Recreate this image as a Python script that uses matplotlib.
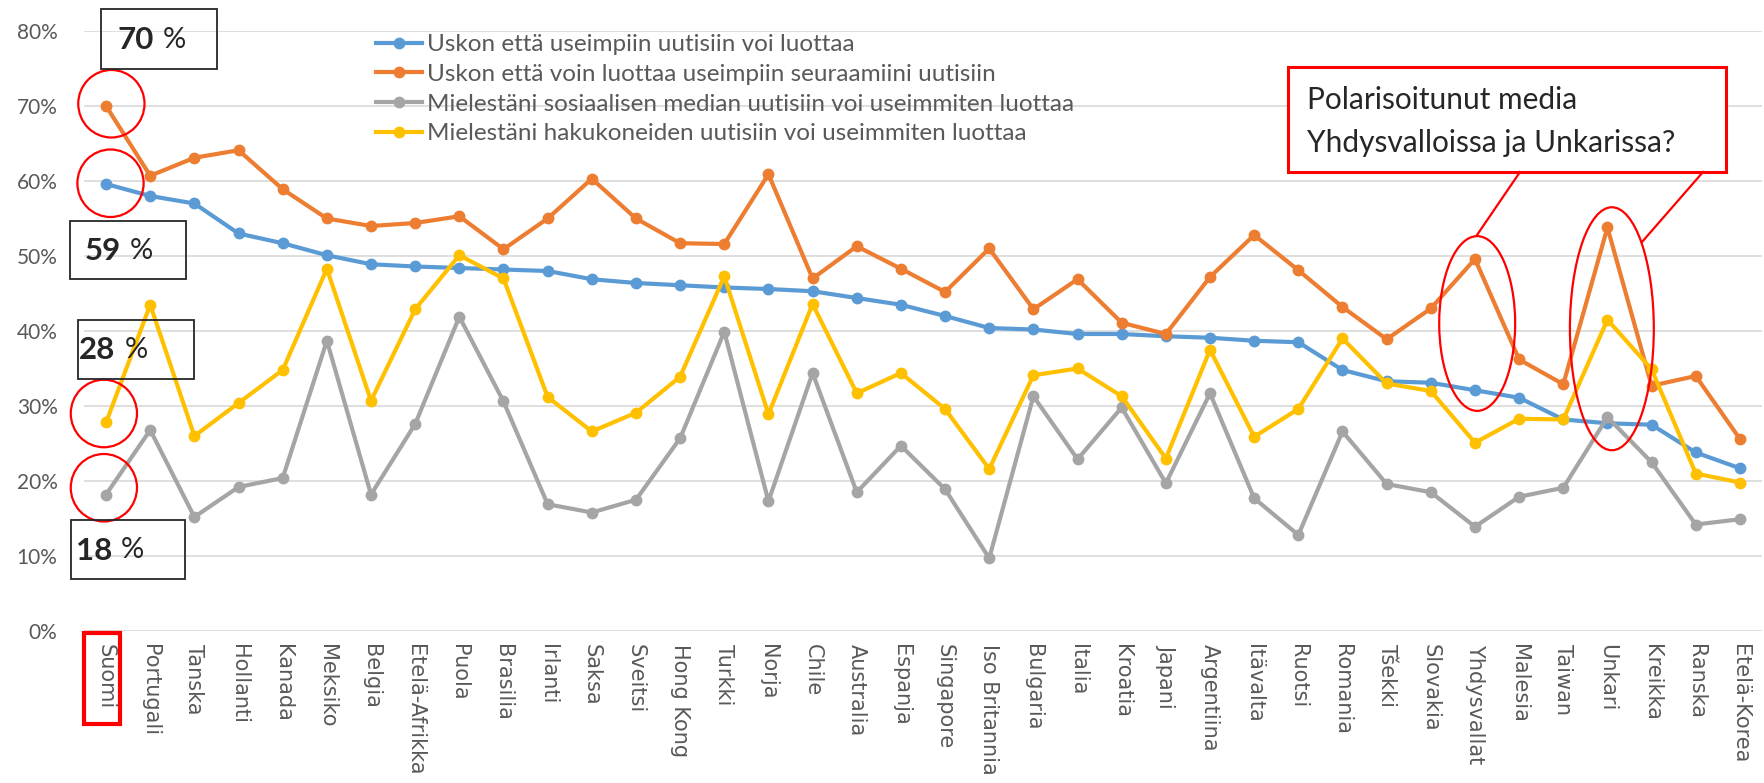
import matplotlib
matplotlib.use("Agg")
import matplotlib.pyplot as plt
from matplotlib.patches import Rectangle, Ellipse
from matplotlib.lines import Line2D

countries = ['Suomi', 'Portugali', 'Tanska', 'Hollanti', 'Kanada', 'Meksiko', 'Belgia',
             'Etelä-Afrikka', 'Puola', 'Brasilia', 'Irlanti', 'Saksa', 'Sveitsi', 'Hong Kong',
             'Turkki', 'Norja', 'Chile', 'Australia', 'Espanja', 'Singapore', 'Iso Britannia',
             'Bulgaria', 'Italia', 'Kroatia', 'Japani', 'Argentiina', 'Itävalta', 'Ruotsi',
             'Romania', 'Tšekki', 'Slovakia', 'Yhdysvallat', 'Malesia', 'Taiwan', 'Unkari',
             'Kreikka', 'Ranska', 'Etelä-Korea']

# % vastaajista
luottaa_uutisiin = [59.6, 58.0, 57.0, 53.0, 51.7, 50.1, 48.9, 48.6, 48.4, 48.2, 48.0, 46.9,
                    46.4, 46.1, 45.8, 45.6, 45.3, 44.4, 43.5, 42.0, 40.4, 40.2, 39.6, 39.6,
                    39.3, 39.1, 38.7, 38.5, 34.8, 33.3, 33.1, 32.1, 31.1, 28.2, 27.7, 27.5,
                    23.8, 21.7]
luottaa_seuraamiin = [70.0, 60.7, 63.1, 64.1, 58.9, 55.0, 54.0, 54.4, 55.3, 50.9, 55.0, 60.3,
                      55.0, 51.7, 51.6, 60.9, 47.0, 51.3, 48.3, 45.2, 51.0, 42.9, 46.9, 41.1,
                      39.6, 47.2, 52.8, 48.1, 43.2, 38.9, 43.0, 49.6, 36.2, 32.9, 53.8, 32.7,
                      34.0, 25.6]
sosiaalinen_media = [18.2, 26.8, 15.2, 19.2, 20.4, 38.7, 18.2, 27.6, 41.9, 30.6, 16.9, 15.8,
                     17.5, 25.7, 39.9, 17.3, 34.4, 18.5, 24.7, 18.9, 9.7, 31.3, 22.9, 29.8,
                     19.7, 31.7, 17.7, 12.8, 26.6, 19.6, 18.5, 13.9, 17.9, 19.1, 28.5, 22.5,
                     14.2, 14.9]
hakukoneet = [27.8, 43.5, 26.0, 30.4, 34.8, 48.3, 30.7, 42.9, 50.1, 47.0, 31.2, 26.6,
              29.1, 33.9, 47.3, 28.9, 43.6, 31.7, 34.4, 29.6, 21.6, 34.1, 35.0, 31.3,
              23.0, 37.5, 25.9, 29.6, 39.0, 33.0, 32.0, 25.1, 28.3, 28.2, 41.5, 34.9,
              21.0, 19.8]

series_labels = ['Uskon että useimpiin uutisiin voi luottaa',
                 'Uskon että voin luottaa useimpiin seuraamiini uutisiin',
                 'Mielestäni sosiaalisen median uutisiin voi useimmiten luottaa',
                 'Mielestäni hakukoneiden uutisiin voi useimmiten luottaa']
colors = ['#5B9BD5', '#ED7D31', '#A5A5A5', '#FFC000']

W, H = 1765, 783


def px(x, y):
    # pikselikoordinaatit -> kuvan osuus
    return x / W, 1 - y / H


fig = plt.figure(figsize=(W / 100, H / 100), dpi=100)
ax = fig.add_axes([84 / W, 1 - 631 / H, (1762 - 84) / W, 600 / H])

x = list(range(len(countries)))
for vals, lab, col in zip([luottaa_uutisiin, luottaa_seuraamiin, sosiaalinen_media, hakukoneet],
                          series_labels, colors):
    ax.plot(x, vals, color=col, lw=3.0, marker='o', markersize=7.5, label=lab)

ax.set_xlim(-0.5, len(countries) - 0.5)
ax.set_ylim(0, 80)
ax.set_yticks(range(0, 81, 10))
ax.set_yticklabels([f'{v}%' for v in range(0, 81, 10)], fontfamily='Lato', fontsize=15,
                   color='#595959')
ax.set_xticks(x)
ax.set_xticklabels(countries, rotation=270, ha='center', va='top', fontfamily='DejaVu Sans',
                   fontsize=15, color='#595959')
ax.tick_params(axis='both', length=0)
ax.tick_params(axis='y', pad=19)
ax.tick_params(axis='x', pad=9)
ax.grid(axis='y', color='#D9D9D9', lw=1.2)
ax.set_axisbelow(True)
for s in ax.spines.values():
    s.set_visible(False)

leg = ax.legend(loc='upper left', bbox_to_anchor=px(376, 34), bbox_transform=fig.transFigure,
                frameon=False, prop={'family': 'Lato', 'size': 17.5}, handlelength=1.9,
                handletextpad=0.18, labelspacing=0.36, borderpad=0, borderaxespad=0)
for t in leg.get_texts():
    t.set_color('#595959')

# punaiset ympyrät Suomen kohdalla
for cx, cy, w, h in [(0.12, 70.3, 1.5, 9.0), (0.1, 59.7, 1.5, 9.0),
                     (-0.05, 29.0, 1.5, 9.0), (-0.05, 19.1, 1.5, 9.0)]:
    ax.add_patch(Ellipse((cx, cy), w, h, fill=False, ec='red', lw=1.6, clip_on=False, zorder=5))

# Yhdysvallat ja Unkari
ax.add_patch(Ellipse((31.05, 41.0), 1.72, 23.3, fill=False, ec='red', lw=1.6, clip_on=False, zorder=5))
ax.add_patch(Ellipse((34.1, 40.3), 1.9, 32.4, fill=False, ec='red', lw=1.6, clip_on=False, zorder=5))

# prosenttilaatikot
boxes = [('70', 101, 9, 217, 69, 154, 163),
         ('59', 70, 221, 186, 279, 121, 130),
         ('28', 78, 320, 194, 379, 115, 125),
         ('18', 71, 520, 185, 579, 112, 121)]
for num, x0, y0, x1, y1, xn, xp in boxes:
    fx0, fy1 = px(x0, y1)
    fx1, fy0 = px(x1, y0)
    fig.add_artist(Rectangle((fx0, fy1), fx1 - fx0, fy0 - fy1, transform=fig.transFigure,
                             fill=False, ec='#262626', lw=1.3, zorder=6))
    cy = (y0 + y1) / 2 + 1
    fig.text(*px(xn, cy), num, ha='right', va='center', fontfamily='Lato', fontweight='bold',
             fontsize=22.5, color='#262626', zorder=7)
    fig.text(*px(xp, cy), '%', ha='left', va='center', fontfamily='Lato', fontsize=21,
             color='#262626', zorder=7)

# Suomi-tikin punainen kehys
fx0, fy1 = px(84, 724)
fx1, fy0 = px(120, 633)
fig.add_artist(Rectangle((fx0, fy1), fx1 - fx0, fy0 - fy1, transform=fig.transFigure,
                         fill=False, ec='red', lw=3, zorder=6))

# huomiolaatikko
fx0, fy1 = px(1288, 172)
fx1, fy0 = px(1726, 67)
fig.add_artist(Rectangle((fx0, fy1), fx1 - fx0, fy0 - fy1, transform=fig.transFigure,
                         fc='white', ec='red', lw=2.2, zorder=6))
fig.text(*px(1307, 109), 'Polarisoitunut media', ha='left', va='baseline', fontfamily='Lato',
         fontsize=21.5, color='#262626', zorder=7)
fig.text(*px(1307, 152), 'Yhdysvalloissa ja Unkarissa?', ha='left', va='baseline',
         fontfamily='Lato', fontsize=21.5, color='#262626', zorder=7)
for (xa, ya), (xb, yb) in [((1520, 172), (1477, 235)), ((1703, 172), (1642, 242))]:
    (u0, v0), (u1, v1) = px(xa, ya), px(xb, yb)
    fig.add_artist(Line2D([u0, u1], [v0, v1], transform=fig.transFigure, color='red',
                          lw=1.6, zorder=6))

fig.savefig('out.png', dpi=100)
